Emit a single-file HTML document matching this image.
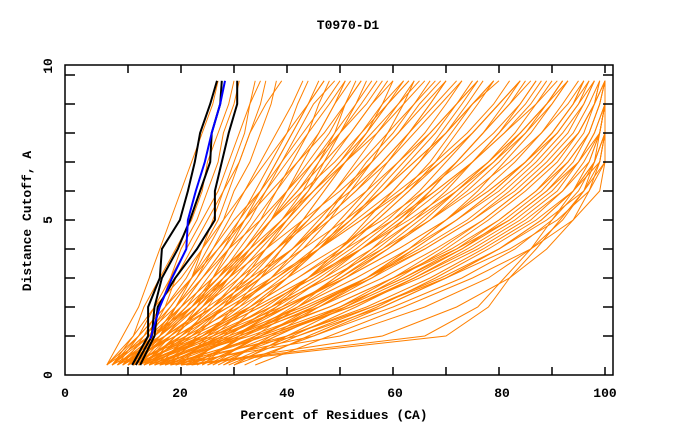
<!DOCTYPE html>
<html><head><meta charset="utf-8"><style>
html,body{margin:0;padding:0;background:#fff}
svg{display:block}
text{font-family:"Liberation Mono",monospace;font-weight:bold;fill:#000}
</style></head><body>
<svg id="chart" width="680" height="440" viewBox="0 0 680 440" xmlns="http://www.w3.org/2000/svg">
<text x="348" y="29" font-size="13" text-anchor="middle">T0970-D1</text>
<g id="series"></g>
<g id="axes"></g>
<text x="334" y="419" font-size="13" text-anchor="middle">Percent of Residues (CA)</text>
<text transform="translate(31,221) rotate(-90)" font-size="13" text-anchor="middle">Distance Cutoff, A</text>
</svg>
<script>
const cutoffs=[0,1,2,3,4,5,6,7,8,9,9.8];
const xTickLabels=["0","20","40","60","80","100"];
const yTickLabels=["0","5","10"];
const orangeSeries=[
[6,9,12,14,16,18,20,22,24,26,27],
[7,11,13,16,19,22,24,25,27,29,30],
[8,12,15,18,21,24,27,29,31,33,35],
[9,13,16,18,20,23,25,27,28,30,31],
[10,14,18,22,25,28,30,33,35,37,38],
[11,16,20,24,28,31,34,37,40,42,44],
[12,17,22,27,31,35,38,41,44,46,48],
[13,18,24,29,34,39,43,46,49,51,53],
[8,14,20,26,32,37,42,46,50,53,55],
[14,20,27,33,38,43,47,51,55,58,60],
[15,22,30,37,43,48,52,56,59,62,64],
[10,18,26,34,41,47,53,58,63,67,70],
[16,25,33,40,46,52,58,63,68,72,75],
[12,20,29,38,46,53,60,65,70,74,77],
[18,27,36,44,51,57,63,68,72,76,79],
[20,30,39,47,54,61,67,72,77,81,84],
[14,24,35,45,54,62,69,75,80,84,87],
[22,32,42,51,59,66,72,78,83,87,90],
[17,28,40,50,59,67,74,80,85,89,92],
[24,35,46,56,64,72,79,85,90,94,96],
[19,31,44,55,65,74,81,87,92,96,98],
[26,38,50,60,69,77,84,90,95,98,99],
[21,34,48,60,71,80,87,93,97,99,100],
[28,41,53,64,74,83,90,95,98,100,100],
[23,37,52,65,76,85,92,97,99,100,100],
[30,45,58,70,80,88,94,98,100,100,100],
[25,40,56,70,82,91,97,100,100,100,100],
[21,70,78,82,87,91.5,96,98,99,100,100],
[20,66,76,81,86,90,94,97,99,100,100],
[22,58,72,82,89,94,97,99,100,100,100],
[18,50,66,78,86,92,96,99,100,100,100],
[20,45,60,73,83,90,95,98,100,100,100],
[16,42,58,70,80,88,94,98,100,100,100],
[19,40,55,67,77,86,92,96,99,100,100],
[17,36,52,64,75,84,91,95,98,100,100],
[15,33,48,60,72,82,89,94,97,99,100],
[18,35,50,62,72,80,87,92,96,98,99],
[14,30,44,56,66,75,82,88,93,96,98],
[16,30,42,53,63,72,80,86,91,95,97],
[13,27,40,51,61,70,78,85,90,94,96],
[12,25,37,48,58,67,75,82,88,92,95],
[15,28,38,47,56,64,72,79,85,90,93],
[11,23,34,44,54,63,71,78,84,89,92],
[13,24,33,42,51,60,68,75,81,86,89],
[10,21,31,40,49,58,66,73,79,84,87],
[12,22,30,38,46,54,62,69,75,80,84],
[9,19,28,37,46,54,61,68,74,79,82],
[11,20,27,35,43,51,58,64,70,75,79],
[9,17,25,33,41,48,55,61,67,72,76],
[10,18,24,31,38,45,52,58,63,68,72],
[8,15,22,29,36,43,50,56,61,66,70],
[9,16,21,27,33,39,45,51,57,62,66],
[7,14,20,26,32,37,43,49,54,59,63],
[8,15,19,24,29,35,40,45,50,55,58],
[6,12,17,22,27,32,37,42,47,51,54],
[7,13,18,22,26,30,35,39,43,47,50],
[6,11,15,20,24,28,32,36,40,44,47],
[9,15,19,22,24,26,28,30,32,33,34],
[11,14,17,19,22,25,28,31,33,35,36],
[7,12,17,21,24,27,29,31,33,36,39],
[12,16,19,23,26,29,32,35,38,41,43],
[14,19,23,26,29,32,35,38,41,44,46],
[10,15,21,25,29,33,36,39,42,45,49],
[16,21,25,29,33,37,40,43,46,49,51],
[13,19,24,28,32,36,40,44,48,51,54],
[18,23,28,32,36,40,44,47,50,54,57],
[11,17,23,29,34,39,44,48,52,56,59],
[20,25,30,35,39,43,47,51,55,59,62],
[15,22,28,34,39,44,49,53,57,61,65],
[17,24,31,37,42,47,51,55,60,64,67],
[22,28,34,40,45,50,55,59,63,67,70],
[13,21,28,35,41,46,51,56,61,65,69],
[19,26,33,40,46,51,56,61,66,70,73],
[24,31,38,44,50,55,60,65,69,73,76],
[16,24,32,39,46,52,57,62,67,72,76],
[21,29,37,44,50,56,62,67,71,75,80],
[26,34,42,49,56,62,67,72,77,82,85],
[18,27,36,44,52,59,65,70,75,80,84],
[23,32,41,49,57,64,70,75,80,85,88],
[28,37,46,55,63,70,76,81,86,90,93],
[20,30,40,50,59,67,73,79,84,89,92],
[25,35,45,55,64,72,79,85,90,94,97],
[30,40,51,61,70,78,85,91,95,98,100],
[27,38,50,62,73,82,89,95,99,100,100],
[32,44,57,68,78,87,94,99,100,100,100],
[29,42,56,69,80,89,96,100,100,100,100],
[34,48,62,75,86,94,99,100,100,100,100],
[14,28,40,50,58,65,72,78,84,89,93],
[17,32,45,55,63,70,77,83,88,93,96],
[15,29,43,55,66,75,83,89,94,97,99],
[19,36,51,63,73,81,88,93,97,99,100],
[12,26,39,51,61,70,78,85,91,95,98],
[16,31,46,58,68,77,84,90,95,98,100],
[13,26,37,46,54,61,68,75,81,87,91],
[11,24,35,45,53,60,66,72,77,82,86],
[10,22,33,42,50,57,63,69,75,80,84],
[8,19,29,38,45,52,58,64,70,75,79],
[7,17,26,34,41,47,53,59,64,69,73],
[9,18,26,32,38,44,49,54,59,64,68],
[6,14,22,28,34,40,45,50,55,59,63],
[8,16,23,28,33,37,41,45,49,53,56],
[10,16,22,26,30,34,38,42,46,49,52],
[7,13,19,23,27,31,35,38,41,44,47],
[12,18,24,30,35,40,45,50,54,58,62],
[14,20,26,31,36,41,46,51,56,61,64],
[9,15,20,24,28,32,36,40,44,48,51],
[11,17,22,27,32,37,42,47,52,56,60]
];
const blackSeries=[
[10.8,13.8,13.8,16,16.4,19.8,21.3,22.6,23.6,25.5,26.8],
[12.3,15,15.6,18.9,23,26.4,26.4,27.7,29,30.6,30.6],
[11.5,14.5,15,16.4,19.4,21.7,23.6,25.5,25.8,27.4,27.7]
];
const blueCutoffs=[0.9,2,3,4,5,6,7,8,9,9.8];
const blueSeries=[14.2,16,18.3,21,21.3,22.8,24.5,25.8,27.4,28.3];

const NS="http://www.w3.org/2000/svg";
function xs(p){return 75+5.3*p;}
function ys(v){return 365-29*v;}
const sg=document.getElementById('series');
const ag=document.getElementById('axes');
function line(vals,cuts,color,w,name){
  const el=document.createElementNS(NS,'polyline');
  el.setAttribute('points',vals.map((p,i)=>xs(p).toFixed(1)+','+ys(cuts[i]).toFixed(1)).join(' '));
  el.setAttribute('fill','none');
  el.setAttribute('stroke',color);
  el.setAttribute('stroke-width',w);
  
  
  sg.appendChild(el);
}
orangeSeries.forEach(s=>line(s,cutoffs,'#ff8000',1,'model-line'));
blackSeries.forEach(s=>line(s,cutoffs,'#000',2,'best-model-line'));
line(blueSeries,blueCutoffs,'#0000ff',2,'highlight-model-line');

function mk(tag,attrs){const e=document.createElementNS(NS,tag);for(const k in attrs)e.setAttribute(k,attrs[k]);ag.appendChild(e);return e;}
const frame=mk('rect',{x:65,y:65,width:548,height:310,fill:'none',stroke:'#000','stroke-width':1.5});


for(let p=10;p<=100;p+=10){
  const x=xs(p);
  const t1=mk('line',{x1:x,y1:375,x2:x,y2:367,stroke:'#000','stroke-width':1.5});
  
  
  const t2=mk('line',{x1:x,y1:65,x2:x,y2:73,stroke:'#000','stroke-width':1.5});
  
  
}
for(let v=1;v<=10;v++){
  const y=ys(v);
  const t1=mk('line',{x1:65,y1:y,x2:75,y2:y,stroke:'#000','stroke-width':1.5});
  
  
  const t2=mk('line',{x1:613,y1:y,x2:603,y2:y,stroke:'#000','stroke-width':1.5});
  
  
}
const xLabelPos=[65,180,287,395,502,605];
xTickLabels.forEach((s,i)=>{
  const t=mk('text',{x:xLabelPos[i],y:397,'font-size':13,'text-anchor':'middle'});
  t.textContent=s;
  
  
});
const yLabelPos=[375,220,66];
yTickLabels.forEach((s,i)=>{
  const t=mk('text',{transform:'translate(52,'+yLabelPos[i]+') rotate(-90)','font-size':13,'text-anchor':'middle'});
  t.textContent=s;
  
  
});
</script>
</body></html>
